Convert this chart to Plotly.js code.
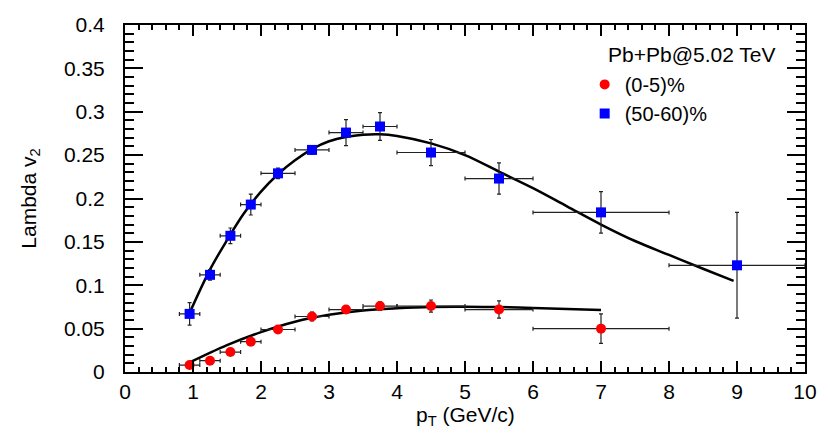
<!DOCTYPE html>
<html>
<head>
<meta charset="utf-8">
<script src="https://cdn.plot.ly/plotly-3.0.1.min.js"></script>
<style>
  html, body { margin: 0; padding: 0; background: #fff; }
  #chart { width: 830px; height: 438px; }
</style>
</head>
<body>
<div id="chart"></div>
<script>
// (50-60)% centrality
const ptBlue = [0.95, 1.25, 1.55, 1.85, 2.25, 2.75, 3.25, 3.75, 4.5, 5.5, 7.0, 9.0];
const v2Blue = [0.067, 0.112, 0.157, 0.193, 0.229, 0.256, 0.276, 0.283, 0.253, 0.223, 0.184, 0.123];
const xErrBlue = [0.15, 0.15, 0.15, 0.15, 0.25, 0.25, 0.25, 0.25, 0.5, 0.5, 1, 1];
const yErrBlue = [0.013, 0.006, 0.009, 0.012, 0.006, 0.005, 0.015, 0.016, 0.015, 0.018, 0.024, 0.061];

// (0-5)% centrality
const ptRed = [0.95, 1.25, 1.55, 1.85, 2.25, 2.75, 3.25, 3.75, 4.5, 5.5, 7.0];
const v2Red = [0.008, 0.013, 0.023, 0.035, 0.049, 0.064, 0.072, 0.076, 0.076, 0.072, 0.050];
const xErrRed = [0.15, 0.15, 0.15, 0.15, 0.25, 0.25, 0.25, 0.25, 0.5, 0.5, 1];
const yErrRed = [0.002, 0.002, 0.002, 0.003, 0.003, 0.005, 0.004, 0.005, 0.007, 0.010, 0.017];

// fit curves
const fitBlueX = [0.95, 1.25, 1.5, 1.75, 2.0, 2.25, 2.5, 2.75, 3.0, 3.25, 3.5, 3.75, 4.0, 4.5, 5.0, 5.5, 6.0, 6.5, 7.0, 7.5, 8.0, 8.5, 8.95];
const fitBlueY = [0.068, 0.118, 0.152, 0.183, 0.208, 0.228, 0.244, 0.257, 0.266, 0.271, 0.2735, 0.274, 0.272, 0.2635, 0.250, 0.231, 0.212, 0.191, 0.170, 0.151, 0.135, 0.119, 0.105];
const fitRedX = [0.95, 1.5, 2.0, 2.5, 3.0, 3.5, 4.0, 4.5, 5.0, 5.5, 6.0, 6.5, 7.0];
const fitRedY = [0.011, 0.031, 0.046, 0.058, 0.066, 0.071, 0.0735, 0.075, 0.0752, 0.0748, 0.0738, 0.0726, 0.0715];

const font = 'Liberation Sans, Arial, Helvetica, sans-serif';

function errStyle(arr) {
    return { type: 'data', array: arr, visible: true, color: '#222', thickness: 1.2, width: 2 };
}

const traces = [
    {
        x: fitBlueX, y: fitBlueY, mode: 'lines', showlegend: false,
        line: { color: '#000', width: 2.5, shape: 'spline' }, hoverinfo: 'skip'
    },
    {
        x: fitRedX, y: fitRedY, mode: 'lines', showlegend: false,
        line: { color: '#000', width: 2.5, shape: 'spline' }, hoverinfo: 'skip'
    },
    {
        x: ptRed, y: v2Red, name: '(0-5)%', mode: 'markers', type: 'scatter',
        marker: { symbol: 'circle', size: 10, color: '#ff0000' },
        error_x: errStyle(xErrRed), error_y: errStyle(yErrRed)
    },
    {
        x: ptBlue, y: v2Blue, name: '(50-60)%', mode: 'markers', type: 'scatter',
        marker: { symbol: 'square', size: 10, color: '#0000ff' },
        error_x: errStyle(xErrBlue), error_y: errStyle(yErrBlue)
    }
];

const layout = {
    width: 830, height: 438,
    margin: { l: 125, r: 25, t: 25, b: 66 },
    paper_bgcolor: '#fff', plot_bgcolor: '#fff',
    font: { family: font, size: 21, color: '#000' },
    showlegend: true,
    legend: {
        x: 0.676, y: 0.885, xanchor: 'left', yanchor: 'top',
        bgcolor: 'rgba(0,0,0,0)', font: { size: 20 }, itemwidth: 30
    },
    annotations: [
        {
            text: 'Pb+Pb@5.02 TeV', xref: 'paper', yref: 'paper',
            x: (606 - 125) / 680, y: (372 - 55) / 347, xanchor: 'left', yanchor: 'middle',
            showarrow: false, font: { size: 21 }
        },
        {
            // x axis title, placed tight under the tick labels like the original
            text: 'p<sub>T</sub> (GeV/c)', xref: 'paper', yref: 'paper',
            x: 0.5, y: (372 - 416) / 347, xanchor: 'center', yanchor: 'middle',
            showarrow: false, font: { size: 21 }
        }
    ],
    xaxis: {
        range: [0, 10], dtick: 1, tick0: 0,
        showgrid: false, zeroline: false,
        showline: true, linecolor: '#000', linewidth: 2, mirror: 'allticks',
        ticks: 'inside', ticklen: 11, tickwidth: 2, tickcolor: '#000',
        ticklabelstandoff: 0,
        minor: { dtick: 0.2, ticks: 'inside', ticklen: 5, tickwidth: 2, tickcolor: '#000', showgrid: false }
    },
    yaxis: {
        range: [0, 0.4], dtick: 0.05, tick0: 0,
        showgrid: false, zeroline: false,
        showline: true, linecolor: '#000', linewidth: 2, mirror: 'allticks',
        ticks: 'inside', ticklen: 18, tickwidth: 2, tickcolor: '#000',
        ticklabelstandoff: 14,
        minor: { dtick: 0.01, ticks: 'inside', ticklen: 9, tickwidth: 2, tickcolor: '#000', showgrid: false },
        title: { text: 'Lambda v<sub>2</sub>', standoff: 22, font: { size: 21 } }
    }
};

Plotly.newPlot('chart', traces, layout, { displayModeBar: false, staticPlot: true });
</script>
</body>
</html>
